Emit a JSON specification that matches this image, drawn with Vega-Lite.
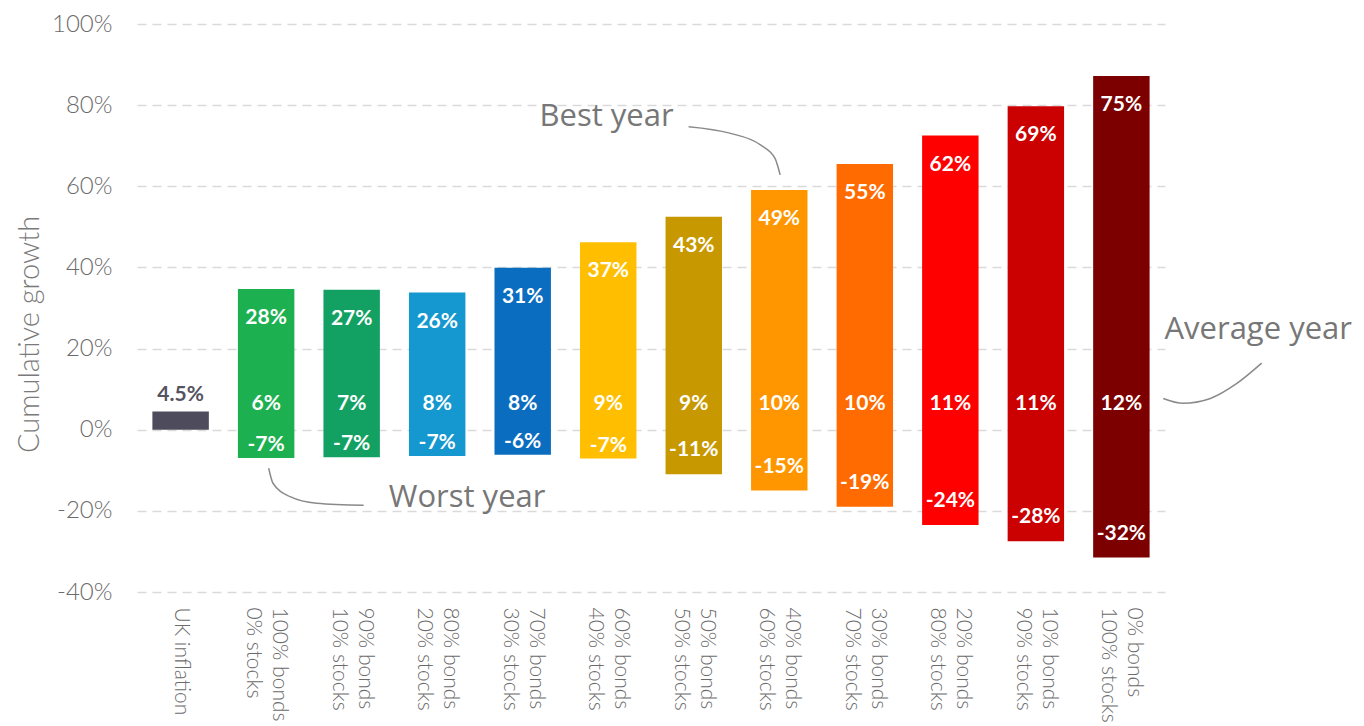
{
  "$schema": "https://vega.github.io/schema/vega-lite/v6.json",
  "width": 1028,
  "height": 568,
  "autosize": {"type": "none"},
  "padding": {"left": 137, "top": 24, "right": 199, "bottom": 134},
  "background": "white",
  "config": {"view": {"stroke": null}, "font": "Lato"},
  "datasets": {
    "bars": [
      {"portfolio": "UK inflation", "low": 0, "high": 4.5, "bestLabel": null, "avgLabel": null, "worstLabel": null, "worst": null, "topLabel": "4.5%"},
      {"portfolio": "100% bonds\n0% stocks", "low": -7, "high": 34.7, "bestLabel": "28%", "avgLabel": "6%", "worstLabel": "-7%", "worst": -7, "topLabel": null},
      {"portfolio": "90% bonds\n10% stocks", "low": -6.8, "high": 34.5, "bestLabel": "27%", "avgLabel": "7%", "worstLabel": "-7%", "worst": -7, "topLabel": null},
      {"portfolio": "80% bonds\n20% stocks", "low": -6.5, "high": 33.8, "bestLabel": "26%", "avgLabel": "8%", "worstLabel": "-7%", "worst": -7, "topLabel": null},
      {"portfolio": "70% bonds\n30% stocks", "low": -6.2, "high": 39.9, "bestLabel": "31%", "avgLabel": "8%", "worstLabel": "-6%", "worst": -6, "topLabel": null},
      {"portfolio": "60% bonds\n40% stocks", "low": -7.1, "high": 46.2, "bestLabel": "37%", "avgLabel": "9%", "worstLabel": "-7%", "worst": -7, "topLabel": null},
      {"portfolio": "50% bonds\n50% stocks", "low": -11, "high": 52.5, "bestLabel": "43%", "avgLabel": "9%", "worstLabel": "-11%", "worst": -11, "topLabel": null},
      {"portfolio": "40% bonds\n60% stocks", "low": -15, "high": 59.1, "bestLabel": "49%", "avgLabel": "10%", "worstLabel": "-15%", "worst": -15, "topLabel": null},
      {"portfolio": "30% bonds\n70% stocks", "low": -19, "high": 65.5, "bestLabel": "55%", "avgLabel": "10%", "worstLabel": "-19%", "worst": -19, "topLabel": null},
      {"portfolio": "20% bonds\n80% stocks", "low": -23.5, "high": 72.5, "bestLabel": "62%", "avgLabel": "11%", "worstLabel": "-24%", "worst": -24, "topLabel": null},
      {"portfolio": "10% bonds\n90% stocks", "low": -27.5, "high": 79.7, "bestLabel": "69%", "avgLabel": "11%", "worstLabel": "-28%", "worst": -28, "topLabel": null},
      {"portfolio": "0% bonds\n100% stocks", "low": -31.5, "high": 87.2, "bestLabel": "75%", "avgLabel": "12%", "worstLabel": "-32%", "worst": -32, "topLabel": null}
    ],
    "curves": [
      {"note": "best", "x": 5.94, "y": 74.7},
      {"note": "best", "x": 6.42, "y": 73.1},
      {"note": "best", "x": 6.78, "y": 70.2},
      {"note": "best", "x": 6.95, "y": 66.9},
      {"note": "best", "x": 7.01, "y": 62.8},
      {"note": "worst", "x": 1.03, "y": -9.5},
      {"note": "worst", "x": 1.08, "y": -13.2},
      {"note": "worst", "x": 1.28, "y": -16.5},
      {"note": "worst", "x": 1.59, "y": -18.1},
      {"note": "worst", "x": 2.14, "y": -18.6},
      {"note": "average", "x": 11.49, "y": 7.7},
      {"note": "average", "x": 11.72, "y": 6.5},
      {"note": "average", "x": 12.04, "y": 7.7},
      {"note": "average", "x": 12.35, "y": 11.4},
      {"note": "average", "x": 12.64, "y": 16.4}
    ],
    "notes": [
      {"label": "Best year", "x": 4.98, "y": 77.2},
      {"label": "Worst year", "x": 3.35, "y": -16.8},
      {"label": "Average year", "x": 12.6, "y": 24.6}
    ]
  },
  "layer": [
    {
      "data": {"name": "bars"},
      "encoding": {
        "x": {
          "field": "portfolio",
          "type": "nominal",
          "sort": null,
          "scale": {"paddingInner": 0.34, "paddingOuter": 0.18},
          "axis": {
            "title": null,
            "labelExpr": "split(datum.label, '\\n')",
            "labelAngle": 90,
            "labelAlign": "left",
            "labelBaseline": "middle",
            "labelPadding": 15,
            "labelOffset": {"condition": {"test": "datum.value == 'UK inflation'", "value": 0}, "value": 13},
            "labelFontSize": 21,
            "labelLineHeight": 26,
            "labelFont": "Lato",
            "labelFontWeight": 300,
            "labelColor": "#6b6b6b",
            "labelLimit": 0,
            "labelOverlap": false,
            "ticks": false,
            "domain": false,
            "grid": false
          }
        }
      },
      "layer": [
        {
          "mark": {"type": "bar"},
          "encoding": {
            "y": {
              "field": "low",
              "type": "quantitative",
              "scale": {"domain": [-40, 100], "nice": false, "zero": false},
              "axis": {
                "title": "Cumulative growth",
                "titleFont": "Lato",
                "titleFontSize": 29,
                "titleFontWeight": 300,
                "titleColor": "#7a7a7a",
                "titleAngle": -90,
                "titleX": -108,
                "titleY": 310,
                "titleAlign": "center",
                "titleBaseline": "middle",
                "values": [-40, -20, 0, 20, 40, 60, 80, 100],
                "labelExpr": "datum.value + '%'",
                "labelFont": "Lato",
                "labelFontSize": 24,
                "labelFontWeight": 300,
                "labelColor": "#6b6b6b",
                "labelPadding": 25,
                "ticks": false,
                "domain": false,
                "grid": true,
                "gridDash": [9, 6],
                "gridColor": "#dadada",
                "gridWidth": 1.5
              }
            },
            "y2": {"field": "high"},
            "color": {
              "field": "portfolio",
              "type": "nominal",
              "legend": null,
              "scale": {
                "domain": ["UK inflation", "100% bonds\n0% stocks", "90% bonds\n10% stocks", "80% bonds\n20% stocks", "70% bonds\n30% stocks", "60% bonds\n40% stocks", "50% bonds\n50% stocks", "40% bonds\n60% stocks", "30% bonds\n70% stocks", "20% bonds\n80% stocks", "10% bonds\n90% stocks", "0% bonds\n100% stocks"],
                "range": ["#4d4b5c", "#1cb050", "#12a163", "#1597cf", "#0b6dbf", "#ffbf00", "#c89800", "#ff9600", "#ff6b00", "#ff0000", "#cb0000", "#7c0000"]
              }
            }
          }
        },
        {
          "mark": {"type": "rule", "color": "#d0d0d0", "strokeWidth": 2},
          "encoding": {"y": {"datum": 0, "type": "quantitative"}}
        },
        {
          "transform": [{"filter": "datum.bestLabel != null"}],
          "mark": {"type": "text", "color": "white", "font": "Lato", "fontWeight": "bold", "fontSize": 21, "baseline": "middle", "dy": 29},
          "encoding": {
            "y": {"field": "high", "type": "quantitative"},
            "text": {"field": "bestLabel"}
          }
        },
        {
          "transform": [{"filter": "datum.avgLabel != null"}],
          "mark": {"type": "text", "color": "white", "font": "Lato", "fontWeight": "bold", "fontSize": 21, "baseline": "middle"},
          "encoding": {
            "y": {"datum": 6.4, "type": "quantitative"},
            "text": {"field": "avgLabel"}
          }
        },
        {
          "transform": [{"filter": "datum.worstLabel != null && datum.worst > -9"}],
          "mark": {"type": "text", "color": "white", "font": "Lato", "fontWeight": "bold", "fontSize": 21, "baseline": "middle", "dy": -13},
          "encoding": {
            "y": {"field": "low", "type": "quantitative"},
            "text": {"field": "worstLabel"}
          }
        },
        {
          "transform": [{"filter": "datum.worstLabel != null && datum.worst <= -9"}],
          "mark": {"type": "text", "color": "white", "font": "Lato", "fontWeight": "bold", "fontSize": 21, "baseline": "middle", "dy": -24},
          "encoding": {
            "y": {"field": "low", "type": "quantitative"},
            "text": {"field": "worstLabel"}
          }
        },
        {
          "transform": [{"filter": "datum.topLabel != null"}],
          "mark": {"type": "text", "color": "#55535f", "font": "Lato", "fontWeight": "bold", "fontSize": 21, "baseline": "middle", "dy": -16},
          "encoding": {
            "y": {"field": "high", "type": "quantitative"},
            "text": {"field": "topLabel"}
          }
        }
      ]
    },
    {
      "layer": [
        {
          "data": {"name": "curves"},
          "mark": {"type": "line", "color": "#8a8a8a", "strokeWidth": 1.5, "interpolate": "monotone"},
          "encoding": {
            "x": {"field": "x", "type": "quantitative", "scale": {"domain": [-0.51, 11.51], "nice": false, "zero": false}, "axis": null},
            "y": {"field": "y", "type": "quantitative", "scale": {"domain": [-40, 100], "nice": false, "zero": false}, "axis": null},
            "detail": {"field": "note"}
          }
        },
        {
          "data": {"name": "notes"},
          "mark": {"type": "text", "color": "#777777", "font": "Open Sans", "fontSize": 31, "align": "center", "baseline": "middle"},
          "encoding": {
            "x": {"field": "x", "type": "quantitative", "axis": null},
            "y": {"field": "y", "type": "quantitative", "axis": null},
            "text": {"field": "label"}
          }
        }
      ]
    }
  ],
  "resolve": {"scale": {"x": "independent", "y": "independent"}, "axis": {"x": "independent", "y": "independent"}}
}
